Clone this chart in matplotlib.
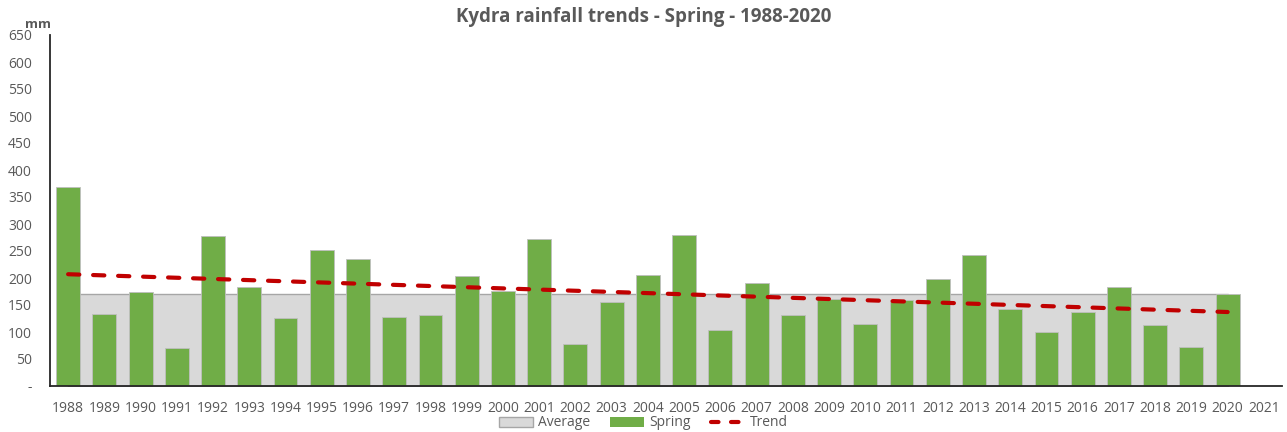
import matplotlib
matplotlib.use("Agg")
import matplotlib.pyplot as plt
from matplotlib.patches import Patch
from matplotlib.lines import Line2D

years = list(range(1988, 2022))
spring_years = list(range(1988, 2021))
spring = [368, 133, 174, 70, 278, 183, 126, 252, 235, 128, 131, 204, 176, 272, 78,
          156, 206, 280, 104, 191, 131, 161, 115, 159, 198, 243, 143, 100, 137, 183,
          113, 72, 170]
average_value = 171
trend_years = [1988, 2020]
trend_values = [207, 137]
y_ticks = [0, 50, 100, 150, 200, 250, 300, 350, 400, 450, 500, 550, 600, 650]
y_tick_labels = ["-"] + [str(v) for v in y_ticks[1:]]

plt.rcParams['font.family'] = ['Open Sans', 'DejaVu Sans']
grey = '#595959'

fig = plt.figure(figsize=(12.87, 4.32), dpi=100)
ax = fig.add_axes([50/1287, 1-386/432, (1282-50)/1287, (386-35)/432])

pos = {y: i for i, y in enumerate(years)}
sx = [pos[y] for y in spring_years]
avg = [average_value] * len(sx)

ax.fill_between(sx, 0, avg, color='#D9D9D9', edgecolor='#A6A6A6', linewidth=1, zorder=1)
ax.bar(sx, spring, width=0.66, color='#70AD47', edgecolor='#BFBFBF', linewidth=0.6, zorder=2)
tx = [pos[y] for y in trend_years]
ax.plot(tx, trend_values, color='#C00000', linewidth=3, linestyle=(0, (2.7, 3.3)),
        dash_capstyle='round', zorder=3)

ax.set_xlim(-0.5, len(years) - 0.5)
ax.set_ylim(0, 650)
ax.set_xticks(range(len(years)))
ax.set_xticklabels([str(y) for y in years])
ax.set_yticks(y_ticks)
ax.set_yticklabels(y_tick_labels)
ax.tick_params(axis='both', length=0, colors=grey, labelsize=10)
ax.tick_params(axis='y', pad=13)
ax.tick_params(axis='x', pad=11)
for s in ['top', 'right']:
    ax.spines[s].set_visible(False)
for s in ['left', 'bottom']:
    ax.spines[s].set_color('#262626')
    ax.spines[s].set_linewidth(1.3)

fig.text(38/1287, 1-24/432, 'mm', ha='center', va='center', fontsize=9.5, fontweight='bold', color=grey)
fig.text(0.5, 1-17/432, 'Kydra rainfall trends - Spring - 1988-2020', ha='center', va='center',
         fontsize=13.5, fontweight='bold', color=grey)

handles = [Patch(facecolor='#D9D9D9', edgecolor='#A6A6A6', label='Average'),
           Patch(facecolor='#70AD47', label='Spring'),
           Line2D([0], [0], color='#C00000', linewidth=3, linestyle=(0, (1.8, 3.0)),
                  dash_capstyle='round', label='Trend')]
fig.legend(handles=handles, loc='center', bbox_to_anchor=(0.5, 1-423/432), ncol=3, frameon=False,
           fontsize=10, labelcolor=grey, handlelength=2.45, handleheight=0.7, columnspacing=1.4,
           handletextpad=0.4, borderpad=0)

fig.savefig('out.png', dpi=100)
